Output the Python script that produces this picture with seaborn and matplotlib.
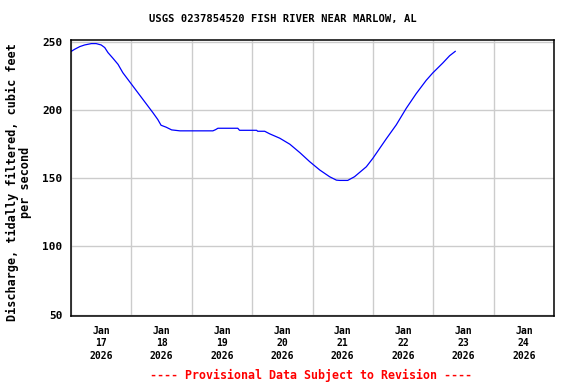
import matplotlib
matplotlib.use("Agg")
import matplotlib.pyplot as plt
import matplotlib.dates as mdates
import seaborn as sns
import pandas as pd

# ---- data (hours since 2026-01-17 00:00, discharge cfs) ----
hours = [0, 1.5, 3.5, 5.4, 8.1, 10, 12, 13.4, 14.7, 16.7, 18.7, 20.6, 22.6, 24.6, 26.6,
         28.6, 30.6, 32.6, 34.5, 35.8, 37.8, 40,
         43.3, 56.4, 57.5, 58.4, 66.3, 67, 73.8, 74.2, 77, 79, 83, 87, 91, 94.9, 98.9,
         102.8, 105.5, 106.8, 110, 112.7, 117.4, 120, 125.3, 129.3, 133.3, 137.2, 141.2,
         143.8, 147.8, 150.5, 152.8]
values = [242.7, 244.4, 246.3, 247.5, 248.5, 248.5, 247.5, 245.6, 241.9, 237.7, 233.3,
          227.2, 222.3, 217.4, 212.5, 207.6, 202.7, 197.8, 192.9, 188.7, 187.3, 185.3,
          184.6, 184.6, 185.5, 186.5, 186.5, 185.0, 185.0, 184.3, 184.3, 182.4, 179.2,
          174.8, 168.6, 162.0, 155.9, 151.0, 148.5, 148.3, 148.3, 151.0, 158.3, 164.5,
          178.7, 189.0, 201.2, 211.8, 221.6, 227.0, 234.3, 239.6, 242.9]
start = "2026-01-17 00:00"
end = "2026-01-25 00:00"
title = "USGS 0237854520 FISH RIVER NEAR MARLOW, AL"
ylabel = "Discharge, tidally filtered, cubic feet\nper second"
footer = "---- Provisional Data Subject to Revision ----"
yticks = [50, 100, 150, 200, 250]

df = pd.DataFrame({
    "time": pd.Timestamp(start) + pd.to_timedelta(hours, unit="h"),
    "discharge": values,
})

sns.set_style("white")
plt.rcParams["font.family"] = ["DejaVu Sans Mono"]
plt.rcParams["font.weight"] = "bold"
plt.rcParams["text.color"] = "black"
plt.rcParams["xtick.color"] = "black"
plt.rcParams["ytick.color"] = "black"

fig = plt.figure(figsize=(5.76, 3.84), dpi=100)
ax = fig.add_axes([71 / 576, 1 - 316 / 384, (554 - 71) / 576, (316 - 39.5) / 384])

sns.lineplot(data=df, x="time", y="discharge", ax=ax, color="#0000ff", linewidth=0.9)

ax.set_xlim(pd.Timestamp(start), pd.Timestamp(end))
ax.set_ylim(49, 251.5)
ax.set_yticks(yticks)
ax.set_yticklabels([str(v) for v in yticks], fontsize=8, fontweight="bold", color="black")

ax.xaxis.set_major_locator(mdates.DayLocator())
ax.xaxis.set_major_formatter(plt.NullFormatter())
ax.xaxis.set_minor_locator(mdates.HourLocator(byhour=[12]))
ax.xaxis.set_minor_formatter(mdates.DateFormatter("%b\n%d\n%Y"))
for lab in ax.xaxis.get_minorticklabels():
    lab.set_fontsize(7)
    lab.set_fontweight("bold")
    lab.set_linespacing(1.3)
    lab.set_color("black")

ax.tick_params(axis="x", which="both", length=0, pad=7, labelcolor="black")
ax.tick_params(axis="y", length=0, pad=6, labelcolor="black")

ax.grid(True, which="major", color="#cccccc", linewidth=1.0)
ax.set_axisbelow(True)
for s in ax.spines.values():
    s.set_color("black")
    s.set_linewidth(1.1)

ax.set_xlabel("")
ax.set_ylabel("")

fig.text(282.5 / 576, 1 - 19 / 384, title, ha="center", va="center",
         fontsize=7.6, fontweight="bold", color="black")
fig.text(19 / 576, 1 - 182 / 384, ylabel, ha="center", va="center", rotation=90,
         multialignment="center", fontsize=8.5, fontweight="bold", linespacing=1.0,
         color="black")
fig.text(311.5 / 576, 1 - 375 / 384, footer, ha="center", va="center",
         fontsize=8.4, fontweight="bold", color="#ff0000")

fig.savefig("out.png", dpi=100, facecolor="white")
